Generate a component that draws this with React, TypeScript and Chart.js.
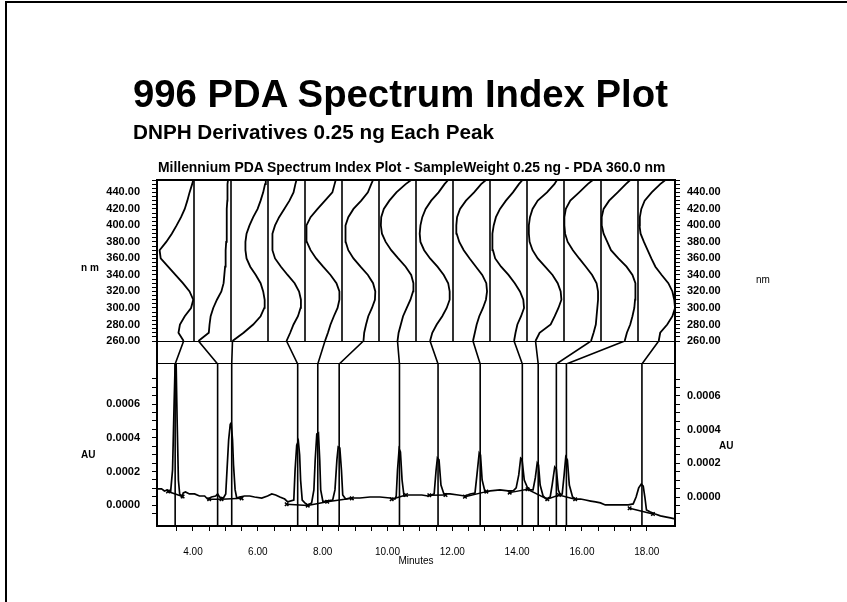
import React, { useEffect, useRef } from 'react';
import { Chart, registerables } from 'chart.js';

Chart.register(...registerables);

// ---------- data ----------
const wavelengths = [260, 270, 280, 290, 300, 310, 320, 330, 340, 350, 360, 370, 380, 390, 400, 410, 420, 430, 440, 450, 455];

// normalised absorbance (0 = column baseline line, 1 = full column width) at each wavelength
const spectrum01 = [0.28, 0.42, 0.38, 0.25, 0.08, 0.02, 0.12, 0.30, 0.50, 0.70, 0.90, 0.93, 0.75, 0.60, 0.47, 0.35, 0.25, 0.18, 0.12, 0.05, 0.02];
const spectrum02 = [0.88, 0.60, 0.58, 0.55, 0.48, 0.38, 0.26, 0.20, 0.18, 0.16, 0.15, 0.14, 0.13, 0.12, 0.12, 0.11, 0.11, 0.10, 0.10, 0.09, 0.08];
const spectrum03 = [0.96, 0.66, 0.40, 0.20, 0.10, 0.09, 0.13, 0.20, 0.33, 0.48, 0.58, 0.61, 0.61, 0.58, 0.50, 0.40, 0.28, 0.20, 0.13, 0.08, 0.06];
const spectrum04 = [0.50, 0.40, 0.31, 0.19, 0.12, 0.11, 0.16, 0.28, 0.47, 0.65, 0.81, 0.88, 0.89, 0.87, 0.81, 0.70, 0.56, 0.42, 0.31, 0.26, 0.23];
const spectrum05 = [0.46, 0.38, 0.31, 0.22, 0.12, 0.07, 0.07, 0.15, 0.31, 0.51, 0.70, 0.85, 0.95, 0.97, 0.95, 0.85, 0.66, 0.46, 0.26, 0.20, 0.17];
const spectrum06 = [0.42, 0.40, 0.35, 0.29, 0.19, 0.11, 0.10, 0.16, 0.30, 0.50, 0.69, 0.83, 0.90, 0.91, 0.90, 0.83, 0.69, 0.48, 0.30, 0.21, 0.16];
const spectrum07 = [0.50, 0.47, 0.41, 0.35, 0.25, 0.15, 0.08, 0.07, 0.13, 0.28, 0.48, 0.67, 0.82, 0.92, 0.95, 0.94, 0.87, 0.72, 0.53, 0.28, 0.13];
const spectrum08 = [0.62, 0.56, 0.44, 0.29, 0.17, 0.09, 0.09, 0.13, 0.25, 0.42, 0.62, 0.78, 0.88, 0.90, 0.88, 0.83, 0.74, 0.59, 0.39, 0.23, 0.13];
const spectrum09 = [0.46, 0.41, 0.36, 0.29, 0.19, 0.11, 0.08, 0.10, 0.21, 0.38, 0.55, 0.71, 0.83, 0.90, 0.91, 0.89, 0.81, 0.65, 0.43, 0.24, 0.11];
const spectrum10 = [0.35, 0.31, 0.26, 0.16, 0.08, 0.10, 0.19, 0.33, 0.50, 0.70, 0.86, 0.92, 0.94, 0.93, 0.90, 0.84, 0.73, 0.57, 0.38, 0.22, 0.12];
const spectrum11 = [0.77, 0.66, 0.36, 0.25, 0.15, 0.07, 0.09, 0.17, 0.31, 0.51, 0.71, 0.85, 0.93, 0.95, 0.95, 0.92, 0.85, 0.71, 0.46, 0.26, 0.19];
const spectrum12 = [0.27, 0.20, 0.14, 0.12, 0.10, 0.08, 0.08, 0.12, 0.24, 0.41, 0.59, 0.76, 0.90, 0.97, 0.99, 0.99, 0.95, 0.83, 0.59, 0.36, 0.22];
const spectrum13 = [0.36, 0.30, 0.21, 0.15, 0.10, 0.08, 0.06, 0.08, 0.15, 0.31, 0.53, 0.73, 0.83, 0.93, 0.98, 0.98, 0.93, 0.78, 0.55, 0.33, 0.21];
const spectrum14 = [0.44, 0.40, 0.21, 0.07, 0.00, 0.02, 0.07, 0.18, 0.36, 0.53, 0.64, 0.74, 0.84, 0.93, 0.96, 0.95, 0.91, 0.82, 0.63, 0.40, 0.26];

// retention times (minutes) of the 14 indexed peaks
const peakTimes = [3.45, 4.76, 5.195, 7.23, 7.85, 8.51, 10.37, 11.56, 12.86, 14.16, 14.65, 15.21, 15.52, 17.85];

// chromatogram at 360 nm
const traceMinutes = [
  2.89, 3.03, 3.12, 3.21, 3.31, 3.37, 3.42, 3.45, 3.48, 3.51, 3.55, 3.59, 3.66, 3.70, 3.77, 3.89, 4.05, 4.20, 4.36, 4.45,
  4.57, 4.70, 4.76, 4.82, 4.94, 5.01, 5.05, 5.10, 5.15, 5.18, 5.22, 5.25, 5.30, 5.35, 5.44, 5.59, 5.75, 5.90, 6.12, 6.30,
  6.43, 6.55, 6.68, 6.83, 6.92, 7.11, 7.15, 7.20, 7.25, 7.29, 7.32, 7.37, 7.45, 7.54, 7.66, 7.73, 7.77, 7.82, 7.87, 7.91,
  7.94, 8.01, 8.10, 8.31, 8.38, 8.44, 8.48, 8.53, 8.58, 8.62, 8.71, 8.84, 9.15, 9.46, 9.77, 10.08, 10.23, 10.27, 10.31, 10.36,
  10.40, 10.45, 10.51, 10.63, 10.85, 11.06, 11.25, 11.44, 11.50, 11.54, 11.59, 11.65, 11.74, 11.93, 12.18, 12.39, 12.55, 12.70, 12.76, 12.83,
  12.87, 12.92, 13.01, 13.17, 13.47, 13.72, 13.88, 13.97, 14.05, 14.11, 14.15, 14.22, 14.31, 14.40, 14.49, 14.56, 14.62, 14.66, 14.71, 14.80,
  14.90, 15.02, 15.08, 15.16, 15.21, 15.27, 15.33, 15.39, 15.45, 15.50, 15.55, 15.61, 15.71, 15.80, 15.96, 16.11, 16.27, 16.42, 16.57, 16.72,
  16.94, 17.18, 17.43, 17.58, 17.67, 17.75, 17.83, 17.89, 17.94, 17.99, 18.11, 18.26, 18.42, 18.57, 18.73, 18.87,
];
const traceAU = [
  9.7e-5, 9.7e-5, 8.5e-5, 9.1e-5, 7.9e-5, 2.1e-4, 6.2e-4, 8.4e-4, 8.4e-4, 5.1e-4, 1.5e-4, 6.7e-5, 4.9e-5, 7.3e-5, 7.9e-5, 6.7e-5, 6.7e-5, 5.5e-5, 5.5e-5, 3.7e-5,
  4.9e-5, 5.5e-5, 6.7e-5, 4.9e-5, 4.3e-5, 6.7e-5, 2.1e-4, 3.87e-4, 4.8e-4, 4.88e-4, 3.87e-4, 2.4e-4, 9.1e-5, 4.3e-5, 4.9e-5, 5.5e-5, 5.5e-5, 4.9e-5, 4.3e-5, 5.5e-5,
  6.7e-5, 6.1e-5, 4.9e-5, 3.7e-5, 2.0e-5, 3.1e-5, 2.1e-4, 3.57e-4, 3.81e-4, 2.98e-4, 1.5e-4, 3.1e-5, 1.4e-5, 2e-6, 1.4e-5, 9.1e-5, 2.69e-4, 4.23e-4, 4.29e-4, 2.69e-4,
  9.1e-5, 2.0e-5, 2.5e-5, 3.1e-5, 9.1e-5, 2.69e-4, 3.46e-4, 3.4e-4, 2.09e-4, 6.1e-5, 3.7e-5, 4.3e-5, 4.3e-5, 4.9e-5, 4.9e-5, 4.3e-5, 3.7e-5, 5.5e-5, 2.09e-4, 3.34e-4,
  3.16e-4, 1.5e-4, 5.5e-5, 6.1e-5, 6.1e-5, 6.1e-5, 5.5e-5, 6.7e-5, 2.09e-4, 2.8e-4, 2.69e-4, 1.2e-4, 6.7e-5, 6.7e-5, 6.1e-5, 5.5e-5, 6.7e-5, 7.3e-5, 1.8e-4, 3.1e-4,
  2.98e-4, 1.5e-4, 7.9e-5, 8.5e-5, 9.1e-5, 8.5e-5, 8.5e-5, 1.03e-4, 1.8e-4, 2.8e-4, 2.74e-4, 1.5e-4, 1.08e-4, 9.1e-5, 9.1e-5, 1.62e-4, 2.51e-4, 2.39e-4, 1.2e-4, 5.5e-5,
  3.7e-5, 4.9e-5, 1.2e-4, 2.27e-4, 2.15e-4, 9.1e-5, 6.1e-5, 6.7e-5, 1.8e-4, 2.86e-4, 2.69e-4, 1.2e-4, 4.9e-5, 3.7e-5, 3.7e-5, 3.1e-5, 2.5e-5, 2.0e-5, 1.4e-5, 2e-6,
  2e-6, 2e-6, 2e-6, 8e-6, 4.9e-5, 1.03e-4, 1.26e-4, 1.14e-4, 4.9e-5, -2.8e-5, -4.0e-5, -5.2e-5, -6.3e-5, -6.9e-5, -7.5e-5, -8.1e-5,
];

// integration baselines (null AU = break between segments)
const baselineMinutes = [3.23, 3.68, 3.68, 4.50, 4.88, 5.50, 5.50, 6.89, 7.54, 8.14, 8.90, 8.90, 10.13, 10.57, 10.57, 11.29, 11.79, 11.79, 12.39, 13.05, 13.05, 13.77, 14.32, 14.93, 15.29, 15.79, 15.79, 17.47, 18.19];
const baselineAU = [8.2e-5, 5.2e-5, null, 3.6e-5, 3.6e-5, 4.1e-5, null, 6e-6, -2e-6, 2.1e-5, 4.1e-5, null, 3.6e-5, 6.1e-5, null, 5.9e-5, 6.1e-5, null, 5.1e-5, 8.1e-5, null, 7.5e-5, 9.5e-5, 3.6e-5, 6.1e-5, 3.6e-5, null, -1.8e-5, -5.2e-5];

// axis ranges
const xMin = 2.89;
const xMax = 18.87;
const nmMin = 260;
const nmMax = 455;
const auMin = -0.000123;
const auMax = 0.000838;
const auRightMin = -0.000172;
const auRightMax = 0.000789;

const FONT = "'Liberation Sans', Arial, Helvetica, sans-serif";

export default function App() {
  const ref = useRef<HTMLCanvasElement>(null);

  useEffect(() => {
    const canvas = ref.current;
    if (!canvas) return;
    const black = '#000';
    const spectra = [spectrum01, spectrum02, spectrum03, spectrum04, spectrum05, spectrum06, spectrum07, spectrum08, spectrum09, spectrum10, spectrum11, spectrum12, spectrum13, spectrum14];
    const colW = (xMax - xMin) / spectra.length;
    const datasets: any[] = [];
    const lineBase = { borderColor: black, pointRadius: 0, tension: 0, fill: false, spanGaps: false, xAxisID: 'x' };

    spectra.forEach((f, k) => {
      const right = xMin + (k + 1) * colW;
      datasets.push({
        ...lineBase,
        yAxisID: 'yNm',
        borderWidth: 1.8,
        data: wavelengths.map((w, i) => ({ x: right - f[i] * colW, y: w })),
      });
    });

    const colLines: any[] = [];
    for (let k = 1; k < spectra.length; k++) {
      const e = xMin + k * colW;
      colLines.push({ x: e, y: nmMin }, { x: e, y: nmMax }, { x: e, y: null });
    }
    datasets.push({ ...lineBase, yAxisID: 'yNm', borderWidth: 1.6, data: colLines });

    const conn: any[] = [];
    spectra.forEach((f, k) => {
      const right = xMin + (k + 1) * colW;
      conn.push({ x: right - f[0] * colW, y: 1 }, { x: peakTimes[k], y: 0 }, { x: peakTimes[k], y: null });
    });
    datasets.push({ ...lineBase, yAxisID: 'yLink', borderWidth: 1.6, data: conn });

    datasets.push({
      ...lineBase, yAxisID: 'yLink', borderWidth: 2,
      data: [{ x: xMin, y: 1 }, { x: xMax, y: 1 }, { x: xMax, y: null }, { x: xMin, y: 0 }, { x: xMax, y: 0 }],
    });

    const pl: any[] = [];
    peakTimes.forEach((t) => pl.push({ x: t, y: auMin }, { x: t, y: auMax }, { x: t, y: null }));
    datasets.push({ ...lineBase, yAxisID: 'yAu', borderWidth: 1.6, data: pl });

    datasets.push({
      ...lineBase, yAxisID: 'yAu', borderWidth: 1.7,
      data: traceMinutes.map((t, i) => ({ x: t, y: traceAU[i] })),
    });

    datasets.push({
      ...lineBase, yAxisID: 'yAu', borderWidth: 1.5,
      pointRadius: 2.5, pointStyle: 'crossRot', pointBorderColor: black, pointBorderWidth: 1.5,
      data: baselineMinutes.map((t, i) => ({ x: t, y: baselineAU[i] })),
    });

    const tickFont = { family: FONT, size: 11, weight: 'bold' as const };
    const multiples = (step: number, extra?: (v: number) => boolean) => (s: any) => {
      s.ticks = s.ticks.filter((t: any) => {
        const r = t.value / step;
        return Math.abs(r - Math.round(r)) < 1e-6 && (!extra || extra(t.value));
      });
    };
    const nmLabel = (v: any) => (Math.round(v) % 20 === 0 ? Number(v).toFixed(2) : '');
    const auLabel = (v: any) => {
      const r = v / 0.0002;
      return Math.abs(r - Math.round(r)) < 1e-6 ? Math.abs(v).toFixed(4) : '';
    };
    const gridTicks = { drawOnChartArea: false, drawTicks: true, tickLength: 5, color: black, lineWidth: 1 };
    const border = { display: true, color: black, width: 2 };
    const noTicks = { display: false };
    const noGrid = { display: false, drawTicks: false, tickLength: 0 };
    const setW = (s: any) => { s.width = 60; };

    const chart = new Chart(canvas, {
      type: 'line',
      data: { datasets },
      options: {
        animation: false,
        responsive: false,
        devicePixelRatio: 1,
        events: [],
        layout: { padding: { left: 97, right: 112, top: 180, bottom: 35 } },
        plugins: { legend: { display: false }, tooltip: { enabled: false }, title: { display: false } },
        scales: {
          x: {
            type: 'linear', position: 'bottom', min: xMin, max: xMax,
            ticks: { stepSize: 0.5, autoSkip: false, maxRotation: 0, padding: 15, color: black, font: { family: FONT, size: 10 },
              callback: (v: any) => (Math.abs(v / 2 - Math.round(v / 2)) < 1e-6 ? Number(v).toFixed(2) : '') },
            afterBuildTicks: multiples(0.5),
            grid: gridTicks, border,
            title: { display: true, text: 'Minutes', color: black, font: { family: FONT, size: 10 }, padding: 0 },
            afterFit: (s: any) => { s.height = 41; },
          },
          xTop: {
            type: 'linear', position: 'top', min: xMin, max: xMax,
            ticks: noTicks, grid: noGrid, border,
            afterFit: (s: any) => { s.height = 0; },
          },
          yNm: {
            type: 'linear', position: 'left', stack: 'L', stackWeight: 161, weight: 3, min: nmMin, max: nmMax,
            ticks: { stepSize: 5, autoSkip: false, padding: 12, color: black, font: tickFont, callback: nmLabel },
            afterBuildTicks: multiples(5), grid: gridTicks, border, afterFit: setW,
          },
          yLink: {
            type: 'linear', position: 'left', stack: 'L', stackWeight: 23, weight: 2, min: 0, max: 1,
            ticks: noTicks, grid: noGrid, border, afterFit: setW,
          },
          yAu: {
            type: 'linear', position: 'left', stack: 'L', stackWeight: 162, weight: 1, min: auMin, max: auMax,
            ticks: { stepSize: 0.00005, autoSkip: false, padding: 12, color: black, font: tickFont, callback: auLabel },
            afterBuildTicks: multiples(0.00005, (v) => v < 0.00076), grid: gridTicks, border, afterFit: setW,
          },
          yNmR: {
            type: 'linear', position: 'right', stack: 'R', stackWeight: 161, weight: 1, min: nmMin, max: nmMax,
            ticks: { stepSize: 5, autoSkip: false, padding: 7, color: black, font: tickFont, callback: nmLabel },
            afterBuildTicks: multiples(5), grid: gridTicks, border, afterFit: setW,
          },
          yLinkR: {
            type: 'linear', position: 'right', stack: 'R', stackWeight: 23, weight: 2, min: 0, max: 1,
            ticks: noTicks, grid: noGrid, border, afterFit: setW,
          },
          yAuR: {
            type: 'linear', position: 'right', stack: 'R', stackWeight: 162, weight: 3, min: auRightMin, max: auRightMax,
            ticks: { stepSize: 0.00005, autoSkip: false, padding: 7, color: black, font: tickFont, callback: auLabel },
            afterBuildTicks: multiples(0.00005), grid: gridTicks, border, afterFit: setW,
          },
        },
      } as any,
    });
    return () => chart.destroy();
  }, []);

  const abs = (extra: React.CSSProperties): React.CSSProperties => ({
    position: 'absolute', whiteSpace: 'nowrap', fontFamily: FONT, color: '#000', lineHeight: 1, margin: 0, ...extra,
  });

  return (
    <div style={{ position: 'absolute', left: 0, top: 0, width: 847, height: 602, background: '#fff', overflow: 'hidden' }}>
      <div style={{ position: 'absolute', left: 5, top: 1, width: 842, height: 601, borderTop: '2px solid #000', borderLeft: '2px solid #000', boxSizing: 'border-box' }} />
      <canvas ref={ref} width={847} height={602} style={{ position: 'absolute', left: 0, top: 0, display: 'block' }} />
      <div style={abs({ left: 133, top: 75, fontSize: 38.3, fontWeight: 'bold' })}>996 PDA Spectrum Index Plot</div>
      <div style={abs({ left: 133, top: 122, fontSize: 20.7, fontWeight: 'bold' })}>DNPH Derivatives 0.25 ng Each Peak</div>
      <div style={abs({ left: 158, top: 161, fontSize: 13.9, fontWeight: 'bold' })}>Millennium PDA Spectrum Index Plot - SampleWeight 0.25 ng - PDA 360.0 nm</div>
      <div style={abs({ left: 81, top: 263, fontSize: 10, fontWeight: 'bold' })}>n m</div>
      <div style={abs({ left: 81, top: 450, fontSize: 10, fontWeight: 'bold' })}>AU</div>
      <div style={abs({ left: 719, top: 441, fontSize: 10, fontWeight: 'bold' })}>AU</div>
      <div style={abs({ left: 756, top: 275, fontSize: 10 })}>nm</div>
    </div>
  );
}
